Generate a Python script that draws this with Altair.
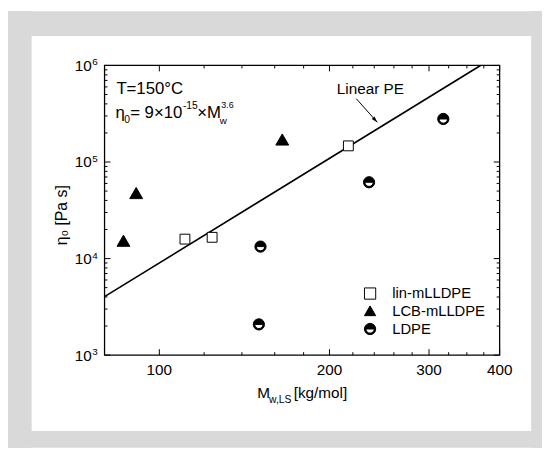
import altair as alt
import pandas as pd

# ---------------- data ----------------
series_names = ["lin-mLLDPE", "LCB-mLLDPE", "LDPE"]

lin_M = [111, 124, 216]
lin_eta = [15900, 16600, 147000]
lcb_M = [86.4, 91, 165]
lcb_eta = [15300, 47700, 171000]
ldpe_M = [151, 150, 235, 318]
ldpe_eta = [13300, 2080, 61700, 279000]

fit_M = [80, 370]
fit_eta = [4030, 1000000]

x_major = [100, 200, 300, 400]
x_labels = ["100", "200", "300", "400"]
x_minor = [120, 140, 160, 180, 220, 240, 260, 280, 325, 350, 375]
y_major = [1000, 10000, 100000, 1000000]
y_label_base = ["10", "10", "10", "10"]
y_label_exp = ["3", "4", "5", "6"]
y_minor = [2000, 3000, 4000, 5000, 6000, 7000, 8000, 9000,
           20000, 30000, 40000, 50000, 60000, 70000, 80000, 90000,
           200000, 300000, 400000, 500000, 600000, 700000, 800000, 900000]

arrow_M = [223, 243]
arrow_eta = [453000, 258000]

annot_T = "T=150°C"
annot_linear = "Linear PE"
y_title = "η₀ [Pa s]"

# ---------------- frames ----------------
rows = []
for n, Ms, es in [(series_names[0], lin_M, lin_eta),
                  (series_names[1], lcb_M, lcb_eta),
                  (series_names[2], ldpe_M, ldpe_eta)]:
    for m, e in zip(Ms, es):
        rows.append({"series": n, "M": m, "eta": e})
pts = pd.DataFrame(rows)
fit = pd.DataFrame({"M": fit_M, "eta": fit_eta})
xlab = pd.DataFrame({"v": x_major, "t": x_labels})
ylab = pd.DataFrame({"v": y_major, "b": y_label_base, "e": y_label_exp})
dummy = pd.DataFrame({"a": [0]})

W, H = 401, 294
FONT = "Liberation Sans"
GRAY = "#d9d9d9"
xs = alt.Scale(type="log", domain=[80, 400], nice=False)
ys = alt.Scale(type="log", domain=[1000, 1000000], nice=False)

HALF = ("M -1 0 A 1 1 0 0 1 1 0 A 1 1 0 0 1 -1 0 Z "
        "M -0.74 0 A 0.74 0.74 0 0 0 0.74 0 Z")
ARROW = "M 0 0 L -0.6 2 L 0.6 2 Z"


def band(x0, x1, y0, y1):
    return alt.Chart(dummy).mark_rect(color=GRAY).encode(
        x=alt.value(x0), x2=alt.value(x1), y=alt.value(y0), y2=alt.value(y1))


bands = [band(-98, -74, -55, 388), band(-98, 444, -55, -30),
         band(433, 444, -55, 388), band(-98, 444, 371, 388)]

line = alt.Chart(fit).mark_line(color="black", strokeWidth=1.6).encode(
    x=alt.X("M:Q", scale=xs, axis=None), y=alt.Y("eta:Q", scale=ys, axis=None))

leg = alt.Legend(title=None, orient="none", legendX=262, legendY=224, padding=0,
                 labelFont=FONT, labelFontSize=15, labelColor="black",
                 symbolSize=130, symbolStrokeColor="black", symbolStrokeWidth=1,
                 rowPadding=1.5, labelOffset=15)

points = alt.Chart(pts).mark_point(filled=True, strokeWidth=1, opacity=1).encode(
    x=alt.X("M:Q", scale=xs, axis=None),
    y=alt.Y("eta:Q", scale=ys, axis=None),
    shape=alt.Shape("series:N", scale=alt.Scale(domain=series_names, range=["square", "triangle-up", HALF]), legend=leg),
    fill=alt.Fill("series:N", scale=alt.Scale(domain=series_names, range=["white", "black", "black"]), legend=leg),
    stroke=alt.Stroke("series:N", scale=alt.Scale(domain=series_names, range=["black", "black", "black"]), legend=leg),
    size={"condition": [{"test": "datum.series === 'LCB-mLLDPE'", "value": 170},
                        {"test": "datum.series === 'LDPE'", "value": 130}], "value": 100},
)


def xticks(vals, ln):
    d = pd.DataFrame({"v": vals})
    b = alt.Chart(d).mark_rule(color="black", strokeWidth=1).encode(
        x=alt.X("v:Q", scale=xs, axis=None), y=alt.value(H), y2=alt.value(H - ln))
    t = alt.Chart(d).mark_rule(color="black", strokeWidth=1).encode(
        x=alt.X("v:Q", scale=xs, axis=None), y=alt.value(0), y2=alt.value(ln))
    return [b, t]


def yticks(vals, ln):
    d = pd.DataFrame({"v": vals})
    l = alt.Chart(d).mark_rule(color="black", strokeWidth=1).encode(
        y=alt.Y("v:Q", scale=ys, axis=None), x=alt.value(0), x2=alt.value(ln))
    r = alt.Chart(d).mark_rule(color="black", strokeWidth=1).encode(
        y=alt.Y("v:Q", scale=ys, axis=None), x=alt.value(W), x2=alt.value(W - ln))
    return [l, r]


ticks = xticks(x_major, 6) + xticks(x_minor, 3) + yticks(y_major, 6) + yticks(y_minor, 3)

# tick labels placed through the scales
xlabels = alt.Chart(xlab).mark_text(font=FONT, fontSize=15.5, color="black", align="center",
                                    baseline="alphabetic").encode(
    x=alt.X("v:Q", scale=xs, axis=None), y=alt.value(H + 20), text="t:N")
ylabels_base = alt.Chart(ylab).mark_text(font=FONT, fontSize=15.5, color="black", align="right",
                                         baseline="alphabetic", dy=5.5).encode(
    y=alt.Y("v:Q", scale=ys, axis=None), x=alt.value(-13), text="b:N")
ylabels_exp = alt.Chart(ylab).mark_text(font=FONT, fontSize=10, color="black", align="left",
                                        baseline="alphabetic", dy=0).encode(
    y=alt.Y("v:Q", scale=ys, axis=None), x=alt.value(-12.5), text="e:N")

frame = alt.Chart(dummy).mark_rect(fillOpacity=0, stroke="black", strokeWidth=1.3).encode(
    x=alt.value(0), x2=alt.value(W), y=alt.value(0), y2=alt.value(H))


def txt(s, x, y, size, align="left"):
    return alt.Chart(dummy).mark_text(text=s, font=FONT, fontSize=size, color="black",
                                       align=align, baseline="alphabetic").encode(
        x=alt.value(x), y=alt.value(y))


texts = [
    txt(annot_T, 12, 29, 17),
    txt("η", 11, 53, 17),
    txt("0", 20, 58.5, 10.5),
    txt("= 9×10", 26, 53, 17),
    txt("-15", 79.5, 44, 10.5),
    txt("×M", 94, 53, 17),
    txt("w", 117, 59, 10),
    txt("3.6", 118.5, 43, 9),
    txt(annot_linear, 235.7, 29, 15.5),
    txt("M", 155, 338, 15.5),
    txt("w,LS", 167, 343, 10.5),
    txt("[kg/mol]", 192, 338, 15.5),
]

ytitle = alt.Chart(dummy).mark_text(text=y_title, font=FONT, fontSize=16, color="black",
                                    align="center", baseline="middle", angle=270).encode(
    x=alt.value(-43.5), y=alt.value(152))

arrow_df = pd.DataFrame({"x1": [arrow_M[0]], "y1": [arrow_eta[0]], "x2": [arrow_M[1]], "y2": [arrow_eta[1]]})
arrow_line = alt.Chart(arrow_df).mark_rule(color="black", strokeWidth=1).encode(
    x=alt.X("x1:Q", scale=xs, axis=None), y=alt.Y("y1:Q", scale=ys, axis=None),
    x2="x2:Q", y2="y2:Q")
arrow_head = alt.Chart(arrow_df).mark_point(shape=ARROW, filled=True, color="black", size=40,
                                           angle=138, opacity=1).encode(
    x=alt.X("x2:Q", scale=xs, axis=None), y=alt.Y("y2:Q", scale=ys, axis=None))

chart = alt.layer(line, points, *ticks, frame, arrow_line, arrow_head,
                  xlabels, ylabels_base, ylabels_exp, ytitle, *texts, *bands).properties(
    width=W, height=H, background="white",
    padding={"left": 98, "top": 55, "right": 43, "bottom": 94},
    autosize=alt.AutoSizeParams(type="none"),
).configure_view(stroke="transparent", strokeWidth=0)

chart.save("out.html", embed_options={"renderer": "svg", "actions": False})
